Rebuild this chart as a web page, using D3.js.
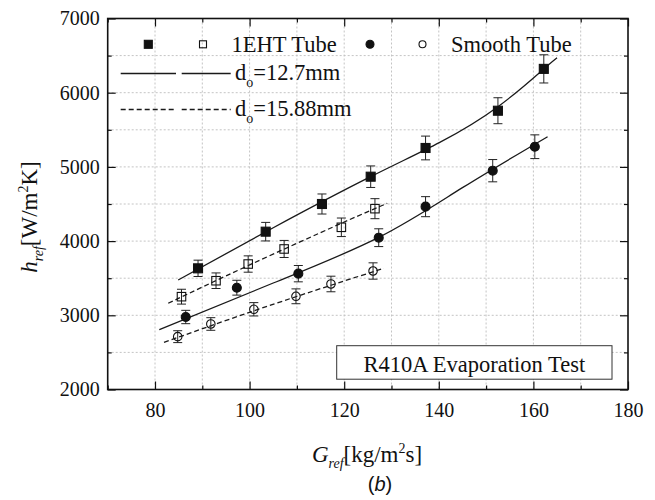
<!DOCTYPE html>
<html>
<head>
<meta charset="utf-8">
<script src="https://cdn.jsdelivr.net/npm/d3@7"></script>
<style>
  body { margin: 0; background: #fff; }
  svg { display: block; }
  text { font-family: "Liberation Serif", "Times New Roman", serif; fill: #111; }
  .tick line { stroke: #111; stroke-width: 1.2; }
  .tick text { font-size: 20px; font-family: "Liberation Serif", "Times New Roman", serif; }
</style>
</head>
<body>
<svg id="chart" width="655" height="500"></svg>
<script>
// G_ref [kg/m2s] and h_ref [W/m2K]
let g1ehtSmall = [89.1, 103.4, 115.3, 125.6, 137.2, 152.5, 162.2];
let h1ehtSmall = [3633, 4127, 4500, 4868, 5255, 5757, 6321];
let e1ehtSmall = [110, 125, 135, 145, 160, 175, 190];

let g1ehtLarge = [85.6, 92.9, 99.7, 107.3, 119.4, 126.5];
let h1ehtLarge = [3251, 3466, 3691, 3894, 4186, 4437];
let e1ehtLarge = [100, 105, 110, 115, 125, 135];

let gSmoothSmall = [86.5, 97.3, 110.3, 127.3, 137.2, 151.4, 160.3];
let hSmoothSmall = [2977, 3372, 3561, 4046, 4464, 4949, 5272];
let eSmoothSmall = [90, 100, 110, 120, 135, 150, 160];

let gSmoothLarge = [84.8, 91.8, 100.9, 109.8, 117.2, 126.1];
let hSmoothLarge = [2712, 2883, 3081, 3256, 3422, 3597];
let eSmoothLarge = [80, 85, 90, 100, 105, 110];

// fitted correlation curves, [G, h] knots
let fit1ehtSmall = [[84.9, 3476], [105, 4180], [125.6, 4868], [140.2, 5330], [152.5, 5811],
  [162.2, 6321], [165.0, 6472]];
let fit1ehtLarge = [[82.8, 3162], [99.7, 3670], [119.4, 4240], [129.1, 4509]];
let fitSmoothSmall = [[80.9, 2806], [105, 3435], [127.3, 4050], [145, 4720], [163.0, 5407]];
let fitSmoothLarge = [[81.9, 2636], [100.9, 3060], [117.2, 3405], [128.4, 3633]];

let xMajorTicks = [80, 100, 120, 140, 160, 180];
let xMinorTicks = [70, 90, 110, 130, 150, 170];
let yMajorTicks = [2000, 3000, 4000, 5000, 6000, 7000];
let yMinorTicks = [2500, 3500, 4500, 5500, 6500];

let series = [
  { g: g1ehtSmall, h: h1ehtSmall, e: e1ehtSmall, shape: 'square', filled: true, dashed: false, fit: fit1ehtSmall },
  { g: g1ehtLarge, h: h1ehtLarge, e: e1ehtLarge, shape: 'square', filled: false, dashed: true, fit: fit1ehtLarge },
  { g: gSmoothSmall, h: hSmoothSmall, e: eSmoothSmall, shape: 'circle', filled: true, dashed: false, fit: fitSmoothSmall },
  { g: gSmoothLarge, h: hSmoothLarge, e: eSmoothLarge, shape: 'circle', filled: false, dashed: true, fit: fitSmoothLarge }
];

let DASH = '5,3';
let INK = '#111';
let SERIF = '"Liberation Serif", "Times New Roman", serif';

let svg = d3.select('#chart');
let plotLeft = 107.7, plotRight = 628, plotTop = 18.5, plotBottom = 389.5;

let x = d3.scaleLinear().domain([70, 180]).range([plotLeft, plotRight]);
let y = d3.scaleLinear().domain([2000, 7000]).range([plotBottom, plotTop]);

// grid
let grid = svg.append('g').attr('class', 'grid')
  .attr('stroke', '#c4c4c4').attr('stroke-width', 1).attr('stroke-dasharray', '2,2');
grid.selectAll('line.v')
  .data(d3.range(80, 180, 10))
  .join('line').attr('class', 'v')
  .attr('x1', d => x(d)).attr('x2', d => x(d))
  .attr('y1', plotTop).attr('y2', plotBottom);
grid.selectAll('line.h')
  .data(d3.range(2500, 7000, 500))
  .join('line').attr('class', 'h')
  .attr('y1', d => y(d)).attr('y2', d => y(d))
  .attr('x1', plotLeft).attr('x2', plotRight);

// axes, ticks pointing inward on all four sides
function addAxis (axis, transform) {
  let g = svg.append('g').attr('transform', transform).call(axis);
  g.select('.domain').remove();
  g.attr('font-family', SERIF);
  return g;
}
addAxis(d3.axisBottom(x).tickValues(xMajorTicks).tickSizeInner(-8).tickSizeOuter(0).tickPadding(13)
  .tickFormat(d3.format('d')), `translate(0,${plotBottom})`);
addAxis(d3.axisBottom(x).tickValues(xMinorTicks).tickSizeInner(-4).tickSizeOuter(0).tickFormat(''),
  `translate(0,${plotBottom})`);
addAxis(d3.axisTop(x).tickValues(xMajorTicks).tickSizeInner(-8).tickSizeOuter(0).tickFormat(''),
  `translate(0,${plotTop})`);
addAxis(d3.axisTop(x).tickValues(xMinorTicks).tickSizeInner(-4).tickSizeOuter(0).tickFormat(''),
  `translate(0,${plotTop})`);
addAxis(d3.axisLeft(y).tickValues(yMajorTicks).tickSizeInner(-8).tickSizeOuter(0).tickPadding(8)
  .tickFormat(d3.format('d')), `translate(${plotLeft},0)`);
addAxis(d3.axisLeft(y).tickValues(yMinorTicks).tickSizeInner(-4).tickSizeOuter(0).tickFormat(''),
  `translate(${plotLeft},0)`);
addAxis(d3.axisRight(y).tickValues(yMajorTicks).tickSizeInner(-8).tickSizeOuter(0).tickFormat(''),
  `translate(${plotRight},0)`);
addAxis(d3.axisRight(y).tickValues(yMinorTicks).tickSizeInner(-4).tickSizeOuter(0).tickFormat(''),
  `translate(${plotRight},0)`);
svg.selectAll('.tick text').attr('fill', INK);

svg.append('rect')
  .attr('x', plotLeft).attr('y', plotTop)
  .attr('width', plotRight - plotLeft).attr('height', plotBottom - plotTop)
  .attr('fill', 'none').attr('stroke', INK).attr('stroke-width', 1.6);

// fitted curves
let line = d3.line()
  .x(d => x(d[0])).y(d => y(d[1]))
  .curve(d3.curveNatural);
series.forEach(s => {
  svg.append('path')
    .attr('d', line(s.fit))
    .attr('fill', 'none').attr('stroke', '#1a1a1a').attr('stroke-width', 1.3)
    .attr('stroke-dasharray', s.dashed ? DASH : null);
});

function drawMarker (sel, shape, filled, size) {
  let m;
  if (shape === 'square') {
    m = sel.append('rect')
      .attr('x', -size / 2).attr('y', -size / 2)
      .attr('width', size).attr('height', size);
  } else {
    m = sel.append('circle').attr('r', size / 2);
  }
  m.attr('fill', filled ? INK : 'none').attr('stroke', INK).attr('stroke-width', 1.1);
}

// error bars and markers
series.forEach(s => {
  let pts = s.g.map((gv, i) => ({ g: gv, h: s.h[i], e: s.e[i] }));
  let pg = svg.append('g').selectAll('g')
    .data(pts)
    .join('g')
    .attr('transform', d => `translate(${x(d.g)},${y(d.h)})`);
  pg.append('path')
    .attr('d', d => {
      let t = y(d.h + d.e) - y(d.h), b = y(d.h - d.e) - y(d.h);
      return `M-4.5,${t}H4.5M0,${t}V${b}M-4.5,${b}H4.5`;
    })
    .attr('fill', 'none').attr('stroke', '#222').attr('stroke-width', 1);
  pg.each(function () {
    drawMarker(d3.select(this), s.shape, s.filled, s.filled ? 9 : 8.5);
  });
});

// legend
let legend = svg.append('g');
let row1 = 44.3;
[[148.3, 'square', true], [203, 'square', false], [370, 'circle', true], [422.5, 'circle', false]]
  .forEach(([lx, shape, filled]) => {
    let g = legend.append('g').attr('transform', `translate(${lx},${row1})`);
    drawMarker(g, shape, filled, filled ? 8 : 7);
  });
legend.append('text').attr('x', 231.5).attr('y', row1 + 7.5)
  .attr('font-size', 22.5).text('1EHT Tube');
legend.append('text').attr('x', 451).attr('y', row1 + 7.5)
  .attr('font-size', 22.5).text('Smooth Tube');

[[73.5, false, 'd', '=12.7mm'], [109.5, true, 'd', '=15.88mm']].forEach(([ly, dashed, a, b]) => {
  [[120.7, 176], [181.7, 230.7]].forEach(([x1, x2]) => {
    legend.append('line')
      .attr('x1', x1).attr('x2', x2).attr('y1', ly).attr('y2', ly)
      .attr('stroke', '#1a1a1a').attr('stroke-width', 1.3)
      .attr('stroke-dasharray', dashed ? DASH : null);
  });
  let t = legend.append('text').attr('x', 235).attr('y', ly + 6).attr('font-size', 22.5);
  t.append('tspan').text(a);
  t.append('tspan').attr('font-size', 14).attr('dy', 7).text('o');
  t.append('tspan').attr('dy', -7).text(b);
});

// test condition box
let box = svg.append('g');
box.append('rect')
  .attr('x', 336.7).attr('y', 345.7).attr('width', 275.3).attr('height', 33.5)
  .attr('fill', '#fff').attr('stroke', '#333').attr('stroke-width', 1);
box.append('text')
  .attr('x', 474.3).attr('y', 371.5).attr('text-anchor', 'middle')
  .attr('font-size', 22.5).text('R410A Evaporation Test');

// axis titles
let xt = svg.append('text')
  .attr('x', 367).attr('y', 462).attr('text-anchor', 'middle').attr('font-size', 23);
xt.append('tspan').attr('font-style', 'italic').text('G');
xt.append('tspan').attr('font-style', 'italic').attr('font-size', 14).attr('dy', 6).text('ref');
xt.append('tspan').attr('dy', -6).text('[kg/m');
xt.append('tspan').attr('font-size', 14).attr('dy', -9).text('2');
xt.append('tspan').attr('dy', 9).text('s]');

let yt = svg.append('text')
  .attr('transform', 'translate(37,217) rotate(-90)')
  .attr('text-anchor', 'middle').attr('font-size', 23);
yt.append('tspan').attr('font-style', 'italic').text('h');
yt.append('tspan').attr('font-style', 'italic').attr('font-size', 14).attr('dy', 6).text('ref');
yt.append('tspan').attr('dy', -6).text('[W/m');
yt.append('tspan').attr('font-size', 14).attr('dy', -9).text('2');
yt.append('tspan').attr('dy', 9).text('K]');

let cap = svg.append('text')
  .attr('x', 380).attr('y', 491).attr('text-anchor', 'middle')
  .style('font-family', '"Liberation Sans", Arial, sans-serif').attr('font-size', 20);
cap.append('tspan').text('(');
cap.append('tspan').attr('font-style', 'italic').text('b');
cap.append('tspan').text(')');
</script>
</body>
</html>
